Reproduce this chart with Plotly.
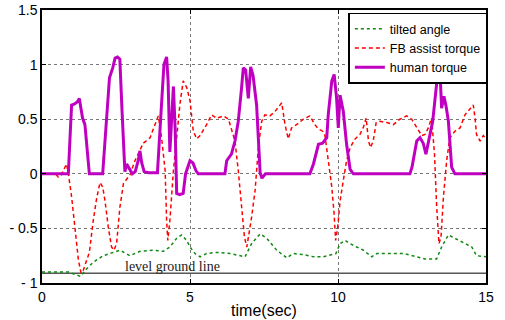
import plotly.graph_objects as go

# ---- data ----
human_t = [0, 0.89, 0.95, 1.0, 1.1, 1.2, 1.26, 1.32, 1.37, 1.45, 1.52, 1.6, 2.05, 2.12, 2.2, 2.28, 2.39, 2.47,
           2.55, 2.63, 2.7, 2.8, 2.86, 2.95, 3.05, 3.15, 3.25, 3.31, 3.37, 3.45, 3.6, 3.9, 3.95, 4.03, 4.12,
           4.21, 4.26, 4.32, 4.38, 4.44, 4.5, 4.55, 4.65, 4.77, 4.85, 5.0, 5.1, 5.2, 5.28, 6.18, 6.24, 6.4,
           6.52, 6.63, 6.74, 6.80, 6.88, 6.97, 7.05, 7.13, 7.25, 7.37, 7.43, 7.55, 9.05, 9.17, 9.34, 9.48,
           9.62, 9.67, 9.79, 9.87, 9.95, 10.01, 10.07, 10.18, 10.29, 10.41, 10.52, 12.43, 12.5, 12.66, 12.77,
           12.88, 12.97, 13.05, 13.2, 13.28, 13.36, 13.42, 13.46, 13.5, 13.58, 13.65, 13.73, 13.84, 13.95, 15]
human_v = [0, 0, 0.35, 0.63, 0.64, 0.66, 0.69, 0.6, 0.51, 0.45, 0.2, 0, 0, 0.3, 0.6, 0.88, 0.97, 1.06,
           1.07, 1.05, 0.6, 0.02, 0.09, 0.05, 0.0, 0.02, 0.12, 0.21, 0.1, 0.02, 0.01, 0.01, 0.2, 0.6, 1.0,
           1.07, 0.85, 0.2, 0.5, 0.8, 0.4, -0.18, -0.19, -0.18, 0.0, 0.12, 0.1, 0.03, 0.0, 0.0, 0.12, 0.18,
           0.3, 0.48, 0.78, 0.97, 0.95, 0.69, 0.98, 0.9, 0.63, 0.01, -0.04, 0.0, 0.0, 0.09, 0.27, 0.28,
           0.33, 0.54, 0.85, 0.91, 0.7, 0.42, 0.72, 0.57, 0.27, 0.04, 0.0, 0.0, 0.06, 0.30, 0.33,
           0.28, 0.18, 0.28, 0.48, 0.69, 0.93, 1.05, 0.85, 0.6, 0.71, 0.62, 0.48, 0.06, 0.0, 0.0]

fb_t = [0, 0.45, 0.55, 0.65, 0.83, 0.89, 1.0, 1.12, 1.23, 1.32, 1.4, 1.51, 1.6, 1.73, 1.85, 1.96, 2.05, 2.13,
        2.24, 2.35, 2.43, 2.52, 2.63, 2.75, 2.86, 2.97, 3.14, 3.31, 3.42, 3.65, 3.82, 3.93, 4.04, 4.16, 4.21,
        4.25, 4.32, 4.44, 4.55, 4.66, 4.77, 4.89, 5.0, 5.11, 5.23, 5.34, 5.56, 5.73, 5.90, 6.13, 6.30, 6.41,
        6.52, 6.63, 6.75, 6.84, 6.92, 7.0, 7.08, 7.20, 7.31, 7.42, 7.53, 7.70, 7.87, 8.10, 8.21, 8.32, 8.43,
        8.60, 8.83, 9.05, 9.22, 9.34, 9.48, 9.56, 9.67, 9.79, 9.87, 9.92, 9.99, 10.07, 10.18, 10.29, 10.41,
        10.58, 10.74, 10.85, 10.95, 11.03, 11.10, 11.19, 11.29, 11.42, 11.65, 11.87, 12.09, 12.32, 12.49,
        12.66, 12.83, 12.94, 13.05, 13.16, 13.26, 13.33, 13.41, 13.48, 13.56, 13.67, 13.78, 13.95, 14.12,
        14.29, 14.46, 14.57, 14.63, 14.68, 14.80, 14.91, 15.0]
fb_v = [0, 0, -0.03, -0.01, 0.09, 0.0, -0.21, -0.49, -0.79, -0.91, -0.88, -0.79, -0.72, -0.43, -0.22, -0.08,
        -0.12, -0.25, -0.49, -0.67, -0.70, -0.64, -0.31, -0.09, -0.05, -0.01, 0.12, 0.21, 0.28, 0.33, 0.45,
        0.53, 0.33, 0.03, -0.43, -0.61, -0.43, 0.03, 0.33, 0.64, 0.85, 0.79, 0.67, 0.39, 0.32, 0.35, 0.45,
        0.54, 0.51, 0.53, 0.50, 0.39, 0.30, 0.03, -0.31, -0.58, -0.67, -0.55, -0.40, -0.15, 0.24, 0.48, 0.54,
        0.53, 0.57, 0.65, 0.45, 0.32, 0.42, 0.45, 0.50, 0.53, 0.45, 0.41, 0.39, 0.35, 0.12, -0.12, -0.37,
        -0.61, -0.49, -0.25, -0.06, 0.12, 0.24, 0.32, 0.36, 0.42, 0.51, 0.30, 0.24, 0.30, 0.47, 0.48, 0.47,
        0.45, 0.50, 0.53, 0.50, 0.42, 0.35, 0.36, 0.42, 0.51, 0.18, -0.28, -0.64, -0.58, -0.22, 0.12, 0.33,
        0.39, 0.42, 0.54, 0.60, 0.63, 0.51, 0.36, 0.30, 0.35, 0.32]

tilt_t = [0, 0.9, 1.1, 1.30, 1.51, 1.73, 2.07, 2.30, 2.63, 2.97, 3.31, 3.76, 4.10, 4.32, 4.55, 4.72, 4.89, 5.0,
          5.17, 5.34, 5.56, 5.90, 6.35, 6.86, 7.08, 7.37, 7.59, 7.93, 8.27, 8.49, 8.83, 9.17, 9.51, 9.93,
          10.07, 10.24, 10.41, 10.63, 10.86, 11.14, 11.31, 11.76, 12.21, 12.66, 12.94, 13.33, 13.50, 13.73,
          13.95, 14.29, 14.52, 14.68, 15]
tilt_v = [-0.9, -0.9, -0.92, -0.94, -0.87, -0.81, -0.75, -0.73, -0.70, -0.75, -0.71, -0.70, -0.71, -0.67,
          -0.59, -0.56, -0.61, -0.67, -0.73, -0.76, -0.73, -0.72, -0.73, -0.76, -0.64, -0.55, -0.59, -0.70,
          -0.77, -0.73, -0.74, -0.76, -0.76, -0.73, -0.64, -0.61, -0.64, -0.67, -0.70, -0.76, -0.73, -0.73,
          -0.73, -0.76, -0.78, -0.78, -0.67, -0.56, -0.59, -0.64, -0.67, -0.75, -0.76]

level_t = [0, 15]
level_v = [-0.91, -0.91]

y_tickvals = [-1, -0.5, 0, 0.5, 1, 1.5]
y_ticktext = ["- 1", "- 0.5", "0", "0.5", "1", "1.5"]
x_tickvals = [0, 5, 10, 15]
x_ticktext = ["0", "5", "10", "15"]

fig = go.Figure()
fig.add_trace(go.Scatter(x=level_t, y=level_v, mode="lines", line=dict(color="black", width=1),
                         showlegend=False, hoverinfo="skip"))
fig.add_trace(go.Scatter(x=tilt_t, y=tilt_v, mode="lines", name="tilted angle",
                         line=dict(color="#118811", width=1.5, dash="dot")))
fig.add_trace(go.Scatter(x=fb_t, y=fb_v, mode="lines", name="FB assist torque",
                         line=dict(color="#ff0000", width=1.5, dash="4px,3px")))
fig.add_trace(go.Scatter(x=human_t, y=human_v, mode="lines", name="human torque",
                         line=dict(color="#c000c0", width=3)))

fig.add_annotation(x=2.75, y=-0.91, text="level ground line", showarrow=False, xanchor="left",
                   yanchor="bottom", yshift=-3,
                   font=dict(family="Liberation Serif", size=14, color="#222"))

fig.update_layout(
    width=505, height=320,
    margin=dict(l=42, r=19, t=10, b=37),
    paper_bgcolor="white", plot_bgcolor="white",
    font=dict(family="Liberation Sans", size=14, color="black"),
    legend=dict(x=0.69, y=0.99, xanchor="left", yanchor="top",
                bgcolor="white", bordercolor="black", borderwidth=1.5,
                font=dict(size=12.5), tracegroupgap=0, itemwidth=30),
    showlegend=True,
)
fig.update_xaxes(range=[0, 15], tickvals=x_tickvals, ticktext=x_ticktext, automargin=False,
                 showline=True, linecolor="black", linewidth=1.5, mirror="ticks",
                 ticks="inside", ticklen=4, tickcolor="black",
                 showgrid=True, gridcolor="#777", griddash="dot", gridwidth=1,
                 zeroline=False, title=dict(text="time(sec)", font=dict(size=16), standoff=1))
fig.update_yaxes(range=[-1, 1.5], tickvals=y_tickvals, ticktext=y_ticktext, automargin=False,
                 showline=True, linecolor="black", linewidth=1.5, mirror="ticks",
                 ticks="inside", ticklen=4, tickcolor="black",
                 showgrid=True, gridcolor="#777", griddash="dot", gridwidth=1,
                 zeroline=False)

fig.write_html("out.html")
